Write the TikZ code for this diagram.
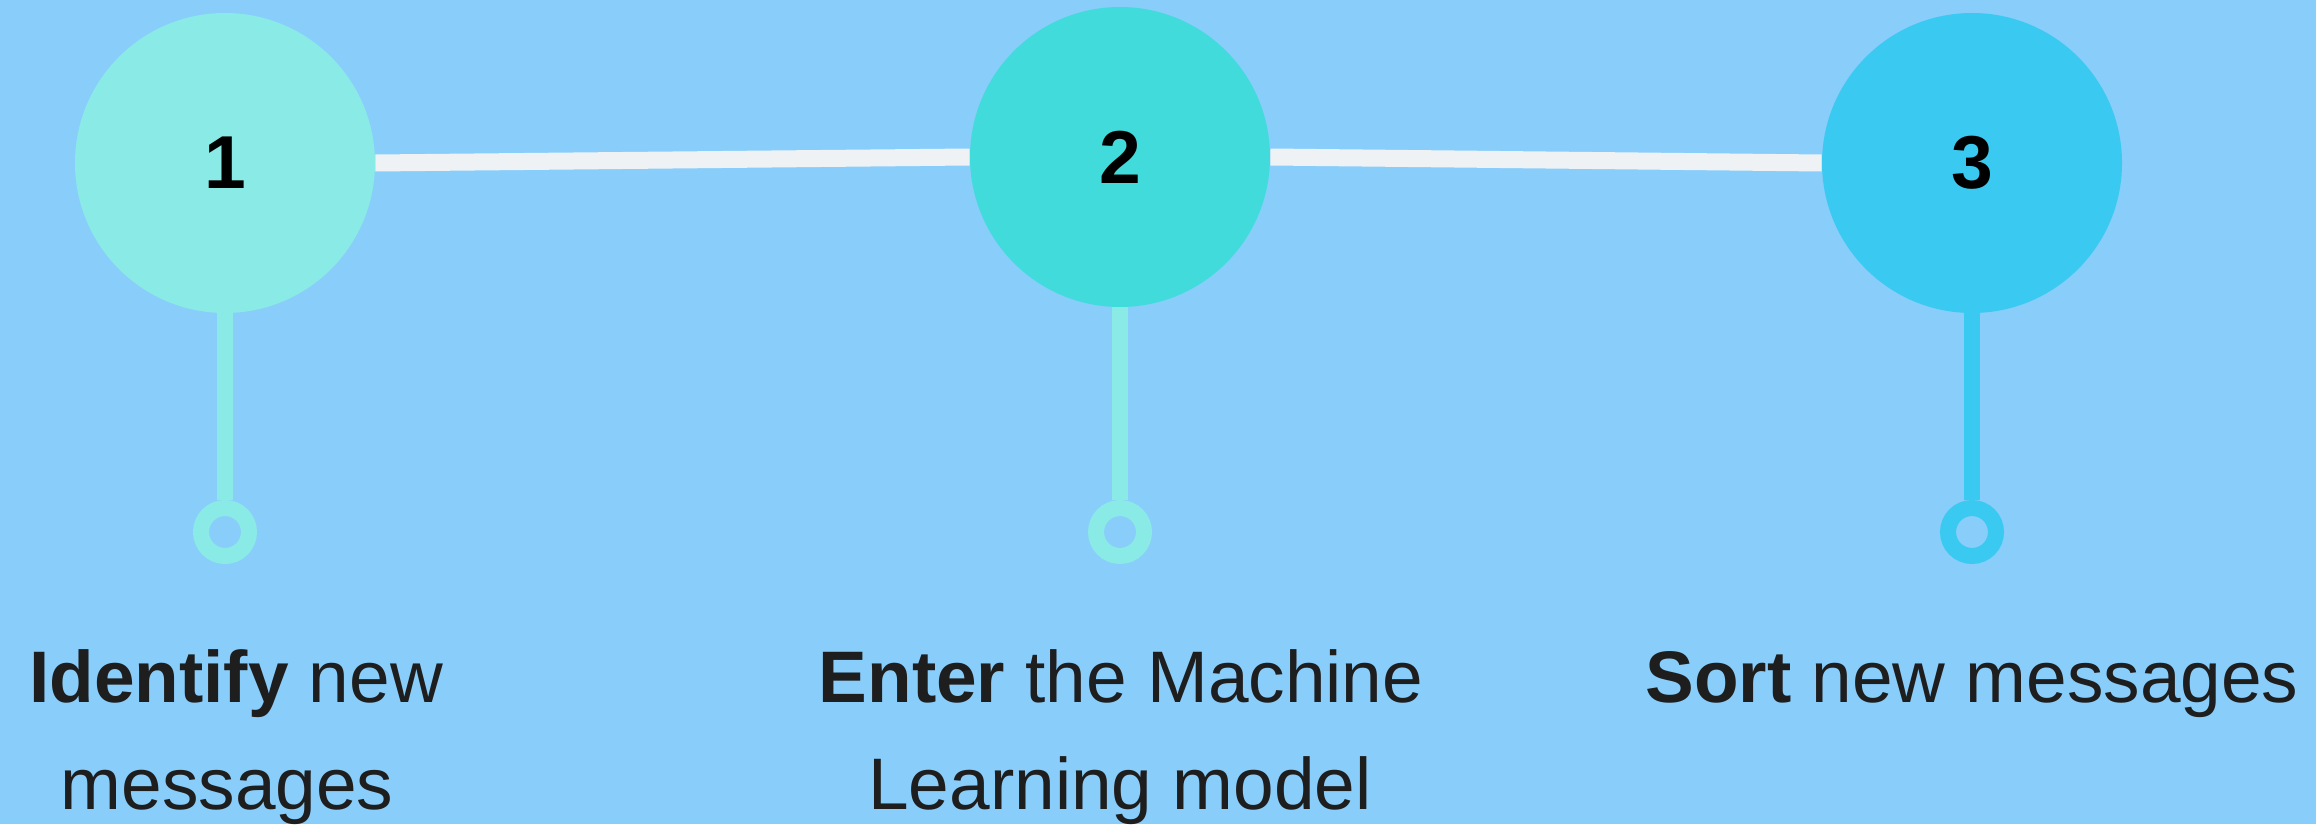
\documentclass[tikz,border=0pt]{standalone}
\usepackage{fontspec}
\setmainfont{Liberation Sans}
\definecolor{bgc}{HTML}{89CDFA}
\definecolor{cone}{HTML}{8AEAE6}
\definecolor{ctwo}{HTML}{41DBDB}
\definecolor{cthree}{HTML}{3AC9F0}
\definecolor{linkc}{HTML}{EEF2F5}
\definecolor{txtc}{HTML}{1E1E1E}
\begin{document}
\begin{tikzpicture}[x=0.5pt,y=-0.5pt,
  bigcirc/.style={circle,minimum size=150pt,inner sep=0pt,font=\fontsize{37.5pt}{40pt}\selectfont\bfseries,text=black},
  ringnode/.style={circle,minimum size=24pt,inner sep=0pt,line width=8pt,draw=#1},
  stem/.style={line width=8pt,draw=#1},
  link/.style={line width=8.5pt,draw=linkc},
  lbl/.style={anchor=base,inner sep=0pt,text=txtc,font=\fontsize{36.5pt}{40pt}\selectfont}]
\fill[bgc] (0,0) rectangle (2316,824);
\useasboundingbox (0,0) rectangle (2316,824);
\node[bigcirc,fill=cone] (c1) at (225,163) {1};
\node[bigcirc,fill=ctwo] (c2) at (1120,157) {2};
\node[bigcirc,fill=cthree] (c3) at (1972,163) {3};
\node[ringnode=cone] (r1) at (225,532) {};
\node[ringnode=cone] (r2) at (1120,532) {};
\node[ringnode=cthree] (r3) at (1972,532) {};
\draw[link] (c1.east) -- (c2.west);
\draw[link] (c2.east) -- (c3.west);
\draw[stem=cone] (c1.south) -- (r1.north);
\draw[stem=cone] (c2.south) -- (r2.north);
\draw[stem=cthree] (c3.south) -- (r3.north);
\node[lbl] (t1a) at (236,702) {\textbf{Identify} new};
\node[lbl] (t1b) at (227,809) {messages};
\node[lbl] (t2a) at (1121,702) {\textbf{Enter} the Machine};
\node[lbl] (t2b) at (1120,809) {Learning model};
\node[lbl] (t3a) at (1972,702) {\textbf{Sort} new messages};
\end{tikzpicture}
\end{document}
